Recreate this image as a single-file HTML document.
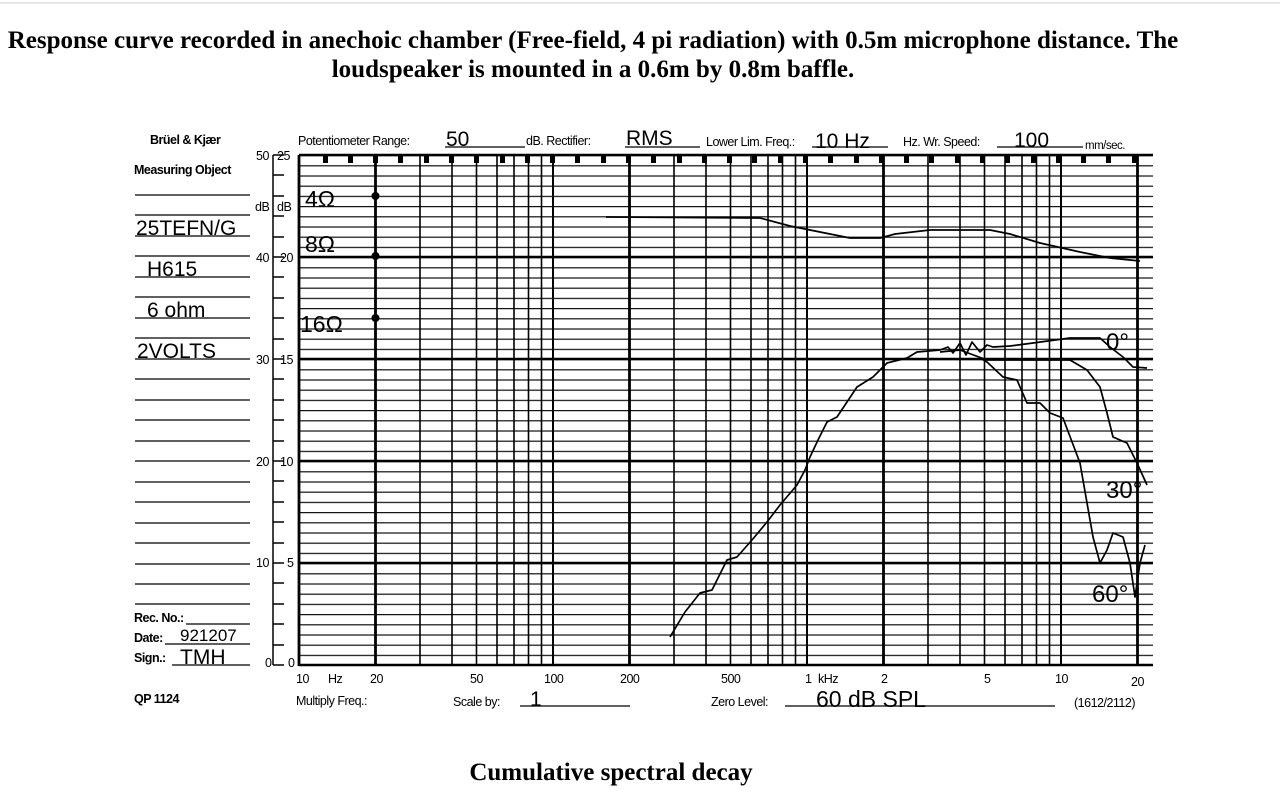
<!DOCTYPE html>
<html><head><meta charset="utf-8"><style>
html,body{margin:0;padding:0;background:#fff;width:1280px;height:800px;overflow:hidden}
.h{position:absolute;left:0;width:1186px;text-align:center;font-family:"Liberation Serif",serif;font-weight:bold;font-size:25px;line-height:29px;white-space:nowrap}
</style></head><body>
<div class="h" style="top:26px">Response curve recorded in anechoic chamber (Free-field, 4 pi radiation) with 0.5m microphone distance. The<br>loudspeaker is mounted in a 0.6m by 0.8m baffle.</div>
<div class="h" style="top:758px;width:1222px">Cumulative spectral decay</div>
<svg width="1280" height="800" style="position:absolute;left:0;top:0" xmlns="http://www.w3.org/2000/svg">
<defs>
<pattern id="hp" x="0" y="155" width="20" height="10.2" patternUnits="userSpaceOnUse">
<line x1="0" y1="0.5" x2="20" y2="0.5" stroke="#111" stroke-width="1.5"/>
</pattern>
</defs>
<line x1="0" y1="3" x2="1280" y2="3" stroke="#ccc" stroke-width="1"/>
<rect x="299" y="155" width="854" height="511" fill="url(#hp)"/>
<g stroke="#000" stroke-width="2.6">
<line x1="299" y1="155" x2="1153" y2="155"/>
<line x1="299" y1="257" x2="1153" y2="257"/>
<line x1="299" y1="359" x2="1153" y2="359"/>
<line x1="299" y1="461" x2="1153" y2="461"/>
<line x1="299" y1="563" x2="1153" y2="563"/>
<line x1="299" y1="665" x2="1153" y2="665"/>
</g>
<g stroke="#000" stroke-width="1.6">
<line x1="420" y1="155" x2="420" y2="665"/><line x1="452" y1="155" x2="452" y2="665"/><line x1="476.5" y1="155" x2="476.5" y2="665"/><line x1="497" y1="155" x2="497" y2="665"/><line x1="514" y1="155" x2="514" y2="665"/><line x1="528.5" y1="155" x2="528.5" y2="665"/><line x1="541.5" y1="155" x2="541.5" y2="665"/>
<line x1="674" y1="155" x2="674" y2="665"/><line x1="706" y1="155" x2="706" y2="665"/><line x1="730.5" y1="155" x2="730.5" y2="665"/><line x1="751" y1="155" x2="751" y2="665"/><line x1="768" y1="155" x2="768" y2="665"/><line x1="782.5" y1="155" x2="782.5" y2="665"/><line x1="795.5" y1="155" x2="795.5" y2="665"/>
<line x1="928" y1="155" x2="928" y2="665"/><line x1="960" y1="155" x2="960" y2="665"/><line x1="984.5" y1="155" x2="984.5" y2="665"/><line x1="1005" y1="155" x2="1005" y2="665"/><line x1="1022" y1="155" x2="1022" y2="665"/><line x1="1036.5" y1="155" x2="1036.5" y2="665"/><line x1="1049.5" y1="155" x2="1049.5" y2="665"/>
<line x1="553" y1="155" x2="553" y2="665" stroke-width="2"/><line x1="807" y1="155" x2="807" y2="665" stroke-width="2"/><line x1="1061" y1="155" x2="1061" y2="665" stroke-width="2"/>
</g>
<g stroke="#000" stroke-width="2.8">
<line x1="299" y1="155" x2="299" y2="666"/><line x1="375.5" y1="155" x2="375.5" y2="666"/><line x1="629.5" y1="155" x2="629.5" y2="666"/><line x1="883.5" y1="155" x2="883.5" y2="666"/><line x1="1137.5" y1="155" x2="1137.5" y2="666"/>
</g>
<g fill="#000">
<rect x="323" y="155" width="5" height="8"/><rect x="348" y="155" width="5" height="8"/><rect x="373" y="155" width="5" height="8"/><rect x="398" y="155" width="5" height="8"/><rect x="424" y="155" width="5" height="8"/><rect x="449" y="155" width="5" height="8"/><rect x="474" y="155" width="5" height="8"/><rect x="500" y="155" width="5" height="8"/><rect x="525" y="155" width="5" height="8"/><rect x="550" y="155" width="5" height="8"/><rect x="575" y="155" width="5" height="8"/><rect x="601" y="155" width="5" height="8"/><rect x="626" y="155" width="5" height="8"/><rect x="651" y="155" width="5" height="8"/><rect x="677" y="155" width="5" height="8"/><rect x="702" y="155" width="5" height="8"/><rect x="727" y="155" width="5" height="8"/><rect x="752" y="155" width="5" height="8"/><rect x="778" y="155" width="5" height="8"/><rect x="803" y="155" width="5" height="8"/><rect x="828" y="155" width="5" height="8"/><rect x="854" y="155" width="5" height="8"/><rect x="879" y="155" width="5" height="8"/><rect x="904" y="155" width="5" height="8"/><rect x="929" y="155" width="5" height="8"/><rect x="955" y="155" width="5" height="8"/><rect x="980" y="155" width="5" height="8"/><rect x="1005" y="155" width="5" height="8"/><rect x="1031" y="155" width="5" height="8"/><rect x="1056" y="155" width="5" height="8"/><rect x="1081" y="155" width="5" height="8"/><rect x="1106" y="155" width="5" height="8"/><rect x="1132" y="155" width="5" height="8"/>
<circle cx="375.5" cy="196" r="4"/><circle cx="375.5" cy="256" r="4"/><circle cx="375.5" cy="318" r="4"/>
</g>
<g stroke="#000" stroke-width="1.5">
<line x1="273" y1="155" x2="273" y2="665"/>
<line x1="273" y1="155" x2="284" y2="155"/><line x1="273" y1="175" x2="284" y2="175"/><line x1="273" y1="196" x2="284" y2="196"/><line x1="273" y1="216" x2="284" y2="216"/><line x1="273" y1="237" x2="284" y2="237"/><line x1="273" y1="257" x2="284" y2="257"/><line x1="273" y1="277" x2="284" y2="277"/><line x1="273" y1="298" x2="284" y2="298"/><line x1="273" y1="318" x2="284" y2="318"/><line x1="273" y1="339" x2="284" y2="339"/><line x1="273" y1="359" x2="284" y2="359"/><line x1="273" y1="379" x2="284" y2="379"/><line x1="273" y1="400" x2="284" y2="400"/><line x1="273" y1="420" x2="284" y2="420"/><line x1="273" y1="441" x2="284" y2="441"/><line x1="273" y1="461" x2="284" y2="461"/><line x1="273" y1="481" x2="284" y2="481"/><line x1="273" y1="502" x2="284" y2="502"/><line x1="273" y1="522" x2="284" y2="522"/><line x1="273" y1="543" x2="284" y2="543"/><line x1="273" y1="563" x2="284" y2="563"/><line x1="273" y1="583" x2="284" y2="583"/><line x1="273" y1="604" x2="284" y2="604"/><line x1="273" y1="624" x2="284" y2="624"/><line x1="273" y1="645" x2="284" y2="645"/><line x1="273" y1="665" x2="284" y2="665"/>
</g>
<g stroke="#000" stroke-width="1.3">
<line x1="135" y1="195" x2="250" y2="195"/><line x1="135" y1="215" x2="250" y2="215"/><line x1="135" y1="236" x2="250" y2="236"/><line x1="135" y1="256" x2="250" y2="256"/><line x1="135" y1="277" x2="250" y2="277"/><line x1="135" y1="297" x2="250" y2="297"/><line x1="135" y1="318" x2="250" y2="318"/><line x1="135" y1="338" x2="250" y2="338"/><line x1="135" y1="359" x2="250" y2="359"/><line x1="135" y1="379" x2="250" y2="379"/><line x1="135" y1="400" x2="250" y2="400"/><line x1="135" y1="420" x2="250" y2="420"/><line x1="135" y1="441" x2="250" y2="441"/><line x1="135" y1="461" x2="250" y2="461"/><line x1="135" y1="482" x2="250" y2="482"/><line x1="135" y1="502" x2="250" y2="502"/><line x1="135" y1="523" x2="250" y2="523"/><line x1="135" y1="543" x2="250" y2="543"/><line x1="135" y1="564" x2="250" y2="564"/><line x1="135" y1="584" x2="250" y2="584"/><line x1="135" y1="604" x2="250" y2="604"/>
<line x1="186" y1="624" x2="250" y2="624"/><line x1="165" y1="644" x2="250" y2="644"/><line x1="172" y1="665" x2="250" y2="665"/>
<line x1="445" y1="147" x2="525" y2="147"/><line x1="625" y1="147" x2="700" y2="147"/><line x1="812" y1="147" x2="888" y2="147"/><line x1="997" y1="147" x2="1083" y2="147"/>
<line x1="520" y1="706" x2="630" y2="706"/><line x1="785" y1="706" x2="1055" y2="706"/>
</g>
<g font-family="Liberation Sans,sans-serif" font-size="12.5" fill="#000" letter-spacing="-0.5">
<text x="150" y="144" font-weight="bold">Brüel &amp; Kjær</text>
<text x="134" y="174" font-weight="bold">Measuring Object</text>
<text x="134" y="622" font-weight="bold">Rec. No.:</text>
<text x="134" y="642" font-weight="bold">Date:</text>
<text x="134" y="662" font-weight="bold">Sign.:</text>
<text x="134" y="703" font-weight="bold">QP 1124</text>
<text x="298" y="145">Potentiometer Range:</text>
<text x="526" y="145">dB. Rectifier:</text>
<text x="706" y="146">Lower Lim. Freq.:</text>
<text x="903" y="146">Hz. Wr. Speed:</text>
<text x="1085" y="149" font-size="11.5">mm/sec.</text>
<text x="256" y="160">50</text><text x="277" y="160">25</text>
<text x="255" y="211">dB</text><text x="277" y="211">dB</text>
<text x="256" y="262">40</text><text x="280" y="262">20</text>
<text x="256" y="364">30</text><text x="280" y="364">15</text>
<text x="256" y="466">20</text><text x="280" y="466">10</text>
<text x="256" y="567">10</text><text x="287" y="567">5</text>
<text x="265" y="667">0</text><text x="288" y="667">0</text>
<text x="296" y="683">10</text><text x="328" y="683">Hz</text><text x="370" y="683">20</text>
<text x="470" y="683">50</text><text x="544" y="683">100</text><text x="620" y="683">200</text><text x="721" y="683">500</text>
<text x="805" y="683">1</text><text x="818" y="683">kHz</text><text x="881" y="683">2</text>
<text x="984" y="683">5</text><text x="1055" y="683">10</text><text x="1131" y="686">20</text>
<text x="296" y="705">Multiply Freq.:</text>
<text x="453" y="706">Scale by:</text>
<text x="711" y="706">Zero Level:</text>
<text x="1074" y="707">(1612/2112)</text>
</g>
<g font-family="Liberation Sans,sans-serif" fill="#000" font-size="21">
<text x="446" y="146">50</text><text x="626" y="145">RMS</text><text x="815" y="148">10 Hz</text><text x="1014" y="147">100</text>
<text x="136" y="235">25TEFN/G</text><text x="147" y="276">H615</text><text x="147" y="317">6 ohm</text><text x="137" y="358">2VOLTS</text>
<text x="180" y="641" font-size="17">921207</text><text x="180" y="664">TMH</text>
<text x="305" y="207" font-size="23">4Ω</text><text x="305" y="252" font-size="23">8Ω</text><text x="300" y="332" font-size="23">16Ω</text>
<text x="530" y="706">1</text>
<text x="816" y="707" font-size="23">60  dB SPL</text>
<text x="1106" y="350" font-size="24">0°</text>
<text x="1106" y="498" font-size="24">30°</text>
<text x="1092" y="602" font-size="24">60°</text>
</g>
<g fill="none" stroke="#000" stroke-width="1.7" stroke-linejoin="round">
<polyline points="606,217 760,218 790,226 820,232 850,238 880,238 895,234 930,230 990,230 1010,234 1040,243 1080,252 1110,258 1140,261"/>
<polyline points="670,637 685,612 700,593 712,590 727,560 737,557 752,540 767,522 780,505 797,485 805,470 810,457 818,440 827,422 837,417 857,387 873,377 887,363 907,358 917,352 940,350 948,347 953,353 960,343 966,355 972,342 980,352 987,345 993,347 1010,346 1033,343 1070,338 1100,338 1110,347 1123,357 1133,367 1147,368"/>
<polyline points="940,352 960,350 987,360 1070,360 1087,370 1100,387 1107,413 1113,437 1127,443 1137,463 1147,485"/>
<polyline points="980,358 987,362 1003,377 1017,380 1027,403 1040,403 1050,413 1063,418 1080,463 1093,537 1100,563 1107,550 1113,533 1123,537 1130,563 1135,597 1140,563 1145,545"/>
</g>
</svg>
</body></html>
